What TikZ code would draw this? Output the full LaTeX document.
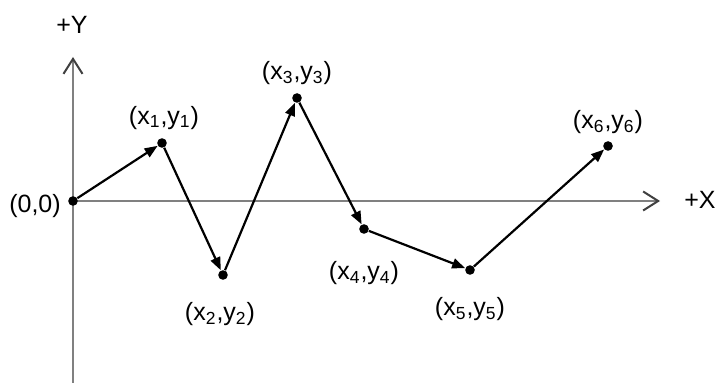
\documentclass[tikz,border=0pt]{standalone}
\usepackage{fontspec}
\setmainfont{Liberation Sans}
\usepackage{tikz}
\usetikzlibrary{arrows.meta,positioning}
\definecolor{axisgray}{RGB}{128,128,128}

\begin{document}
\begin{tikzpicture}[
  x=0.5pt, y=0.5pt,
  font=\fontsize{12.5}{15}\selectfont,
  axis/.style={draw=axisgray, line width=1pt, -{Straight Barb[length=7.5pt, width=9.5pt, black!75]}},
  pt/.style={circle, fill=black, inner sep=0pt, minimum size=4.8pt},
  lbl/.style={inner sep=0pt},
  arr/.style={-{Triangle[length=6.5pt, width=5pt]}, line width=1.1pt}
]
\useasboundingbox (-73,-182) rectangle (642,201);

% axes
\coordinate (o) at (0,0);
\coordinate (ybot) at (0,-182);
\coordinate (ytop) at (0,144);
\coordinate (xend) at (587,0);
\draw[axis] (ybot) -- (ytop);
\draw[axis] (o) -- (xend);
\node[lbl] (ylab) at (-1,176) {+Y};
\node[lbl] (xlab) at (627,1) {+X};

% points
\node[pt] (p0) at (o) {};
\node[pt] (p1) at (89,58) {};
\node[pt] (p2) at (150,-74) {};
\node[pt] (p3) at (224,103) {};
\node[pt] (p4) at (291,-28) {};
\node[pt] (p5) at (397,-69) {};
\node[pt] (p6) at (535,55) {};

\node[lbl] (l0) at (-38,-5) {(0,0)};
\node[lbl, above=4pt of p1, xshift=1pt] (l1) {(x\textsubscript{1},y\textsubscript{1})};
\node[lbl, below=11pt of p2, xshift=-1.5pt] (l2) {(x\textsubscript{2},y\textsubscript{2})};
\node[lbl, above=4pt of p3] (l3) {(x\textsubscript{3},y\textsubscript{3})};
\node[lbl, below=13.5pt of p4] (l4) {(x\textsubscript{4},y\textsubscript{4})};
\node[lbl, below=11pt of p5] (l5) {(x\textsubscript{5},y\textsubscript{5})};
\node[lbl, above=3.5pt of p6] (l6) {(x\textsubscript{6},y\textsubscript{6})};

\draw[arr] (p0) -- (p1);
\draw[arr] (p1) -- (p2);
\draw[arr] (p2) -- (p3);
\draw[arr] (p3) -- (p4);
\draw[arr] (p4) -- (p5);
\draw[arr] (p5) -- (p6);
\end{tikzpicture}
\end{document}
